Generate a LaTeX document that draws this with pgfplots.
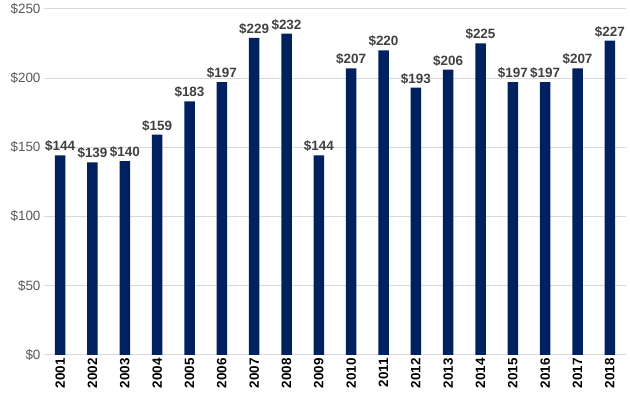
\documentclass[border=0pt]{standalone}
\usepackage{pgfplots}
\pgfplotsset{compat=1.18}
\usepackage{fontspec}
\setmainfont{Liberation Sans}
\definecolor{barblue}{RGB}{0,32,96}
\definecolor{lblgray}{RGB}{64,64,64}
\definecolor{tickgray}{RGB}{89,89,89}
\definecolor{gridgray}{RGB}{217,217,217}
\begin{document}
\begin{tikzpicture}
\begin{axis}[
  scale only axis,
  width=582bp, height=346bp,
  xmin=-0.5, xmax=17.5,
  ymin=0, ymax=250,
  ytick={0,50,100,150,200,250},
  yticklabel={\$\pgfmathprintnumber{\tick}},
  /pgf/number format/assume math mode=true,
  xtick=data,
  xticklabels={2001,2002,2003,2004,2005,2006,2007,2008,2009,2010,2011,2012,2013,2014,2015,2016,2017,2018},
  x tick label style={rotate=90, anchor=east, font=\fontsize{13.5}{16}\selectfont\bfseries, text=black},
  y tick label style={font=\fontsize{13.5}{16}\selectfont, text=tickgray},
  major tick length=0pt,
  ymajorgrids, grid style={gridgray, line width=0.8pt},
  axis line style={draw=none},
  axis x line*=bottom,
  x axis line style={draw=gridgray, line width=0.8pt},
  ybar, bar width=10.5bp,
  nodes near coords={\$\pgfmathprintnumber{\pgfplotspointmeta}},
  nodes near coords style={font=\fontsize{13.5}{16}\selectfont\bfseries, text=lblgray, /pgf/number format/assume math mode=true},
  clip=false,
]
\addplot[fill=barblue, draw=none] coordinates {
(0,144) (1,139) (2,140) (3,159) (4,183) (5,197) (6,229) (7,232) (8,144)
(9,207) (10,220) (11,193) (12,206) (13,225) (14,197) (15,197) (16,207) (17,227)};
\end{axis}
\path[use as bounding box] ([xshift=-44bp,yshift=-41bp]current axis.south west) rectangle ([xshift=4bp,yshift=8bp]current axis.north east);
\end{tikzpicture}
\end{document}
